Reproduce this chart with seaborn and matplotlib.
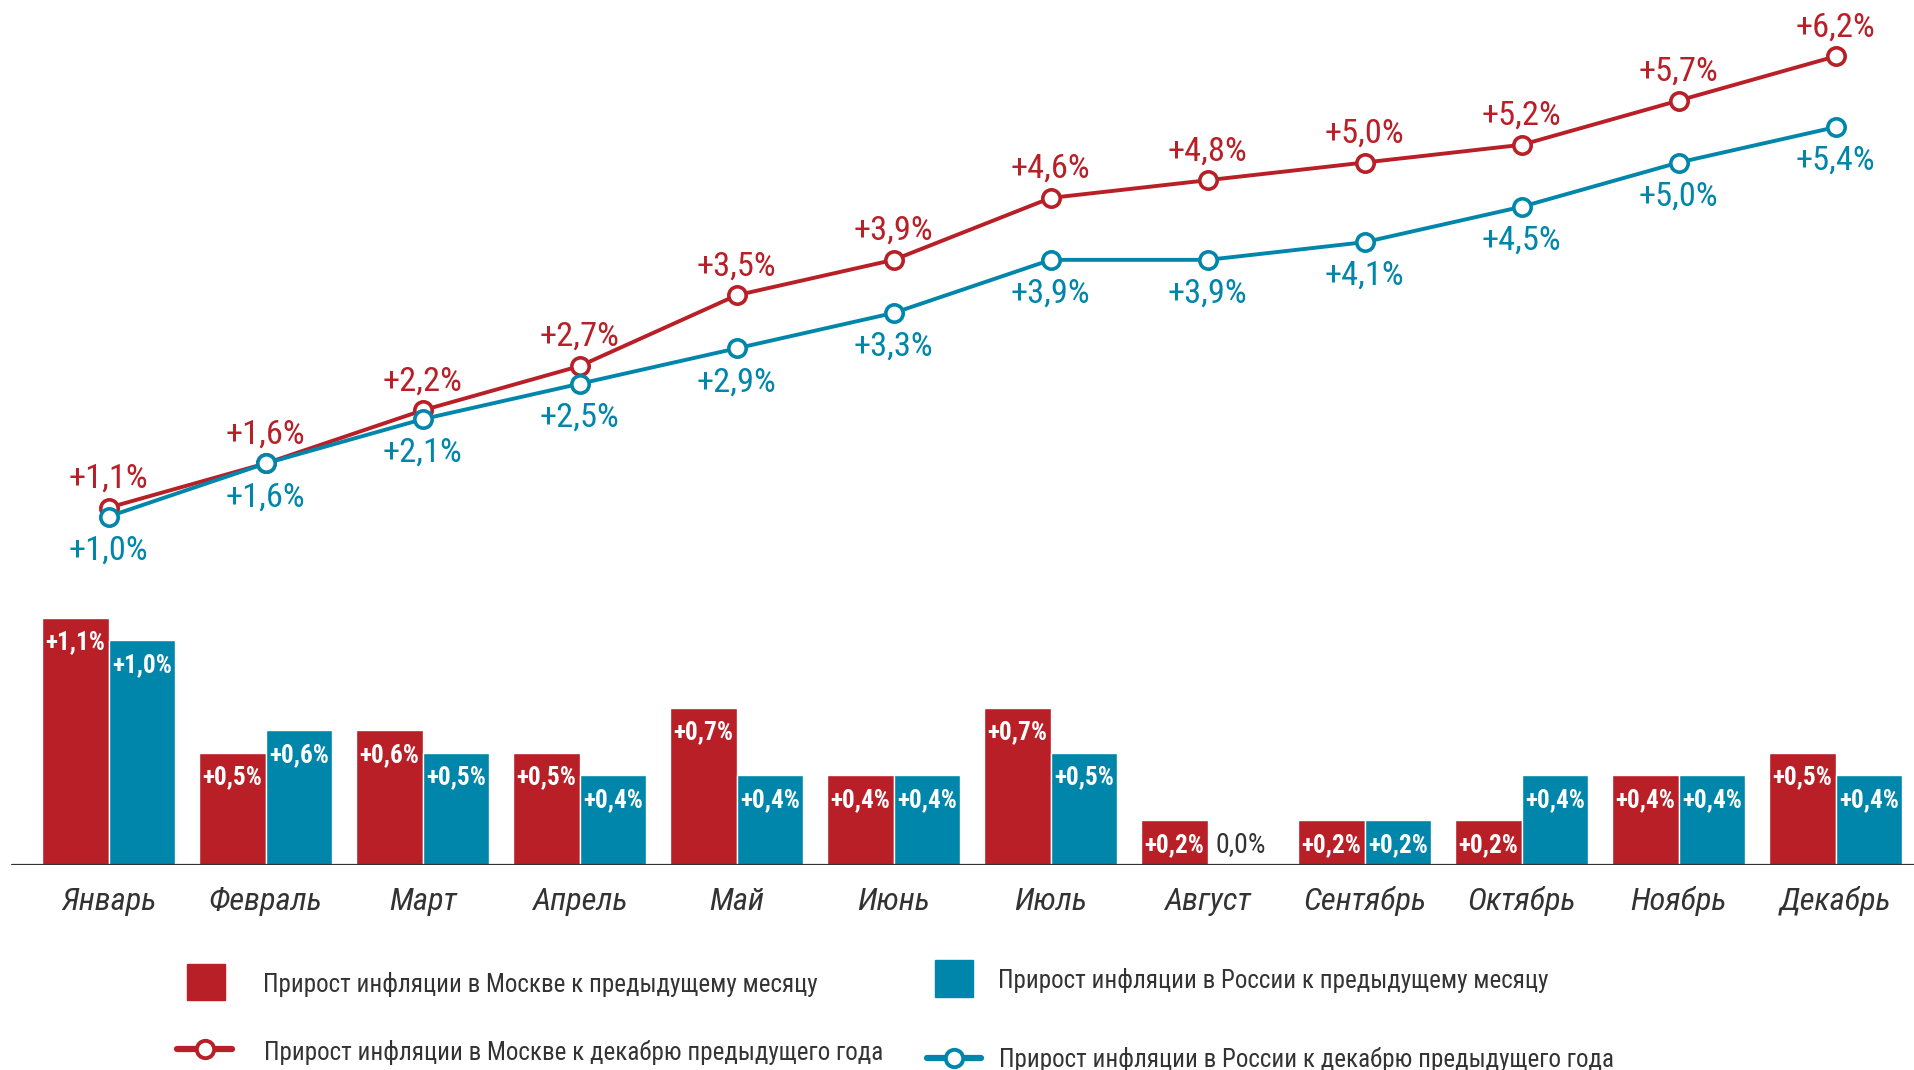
import matplotlib
matplotlib.use("Agg")
import matplotlib.pyplot as plt
from matplotlib import font_manager as fm
from matplotlib.patches import Rectangle
from matplotlib.lines import Line2D
import seaborn as sns
import pandas as pd

# ---------------- data ----------------
months = ['Январь', 'Февраль', 'Март', 'Апрель', 'Май', 'Июнь', 'Июль',
          'Август', 'Сентябрь', 'Октябрь', 'Ноябрь', 'Декабрь']
moscow_mom = [1.1, 0.5, 0.6, 0.5, 0.7, 0.4, 0.7, 0.2, 0.2, 0.2, 0.4, 0.5]
russia_mom = [1.0, 0.6, 0.5, 0.4, 0.4, 0.4, 0.5, 0.0, 0.2, 0.4, 0.4, 0.4]
moscow_ytd = [1.1, 1.6, 2.2, 2.7, 3.5, 3.9, 4.6, 4.8, 5.0, 5.2, 5.7, 6.2]
russia_ytd = [1.0, 1.6, 2.1, 2.5, 2.9, 3.3, 3.9, 3.9, 4.1, 4.5, 5.0, 5.4]
legend_labels = ['Прирост инфляции в Москве к предыдущему месяцу',
                 'Прирост инфляции в России к предыдущему месяцу',
                 'Прирост инфляции в Москве к декабрю предыдущего года',
                 'Прирост инфляции в России к декабрю предыдущего года']

RED = '#B81F27'
BLUE = '#0086AA'
DARK = '#333333'

sns.set_style('white')


def find(family, stretch='normal'):
    try:
        p = fm.findfont(fm.FontProperties(family=family, stretch=stretch),
                        fallback_to_default=False)
        return p
    except Exception:
        return None


# sizes tuned for a condensed face; k rescales if only a normal face exists
FONT, STRETCH, k = 'Liberation Sans', 'normal', 0.80
if find('Liberation Sans Narrow'):
    FONT, STRETCH, k = 'Liberation Sans Narrow', 'normal', 0.95
elif find('Roboto Condensed'):
    FONT, STRETCH, k = 'Roboto Condensed', 'normal', 1.0
else:
    for fam in ['Noto Sans', 'Open Sans']:
        p = find(fam, 'condensed')
        if p and ('ondensed' in p or 'arrow' in p):
            FONT, STRETCH, k = fam, 'condensed', 1.0
            break

plt.rcParams['font.family'] = [FONT, 'DejaVu Sans']
plt.rcParams['font.stretch'] = STRETCH

W, H = 1915, 1070
fig = plt.figure(figsize=(W / 100, H / 100), dpi=100)

xl = (-108.7 / 157.0, (W - 108.7) / 157.0)

# ---------------- bars ----------------
axb = fig.add_axes([0, (H - 865) / H, 1, 270 / H])
df = pd.DataFrame({
    'month': months * 2,
    'value': moscow_mom + russia_mom,
    'series': ['Москва'] * 12 + ['Россия'] * 12,
})
sns.barplot(data=df, x='month', y='value', hue='series', order=months,
            hue_order=['Москва', 'Россия'], palette=[RED, BLUE],
            width=0.847, saturation=1, legend=False, ax=axb)
axb.set_xlim(*xl)
axb.set_ylim(0, 1.2)
for s in axb.spines.values():
    s.set_visible(False)
axb.set_xticks([])
axb.set_yticks([])
axb.set_xlabel('')
axb.set_ylabel('')
axb.axhline(0, xmin=12 / W, xmax=1, color=DARK, lw=1.6, zorder=5)

for cont, vals in zip(axb.containers, [moscow_mom, russia_mom]):
    for bar, v in zip(cont.patches, vals):
        xc = bar.get_x() + bar.get_width() / 2
        if v > 0:
            axb.annotate(f"+{v:.1f}%".replace('.', ','), xy=(xc, v),
                         xytext=(0, -32), textcoords='offset pixels',
                         ha='center', va='baseline', color='white',
                         fontsize=18.2 * k, fontweight='bold')
        else:
            axb.annotate(f"{v:.1f}%".replace('.', ','), xy=(xc, 0),
                         xytext=(0, 13), textcoords='offset pixels',
                         ha='center', va='baseline', color=DARK,
                         fontsize=20 * k)

for i, m in enumerate(months):
    axb.annotate(m, xy=(i, 0), xytext=(0, -45), textcoords='offset pixels',
                 ha='center', va='baseline', color=DARK, fontsize=23.4 * k,
                 fontstyle='italic', annotation_clip=False)

# ---------------- lines ----------------
axl = fig.add_axes([0, (H - 560.75) / H, 1, (560.75 - 12.05) / H])
axl.patch.set_alpha(0)
xs = list(range(12))
for vals, col, dy in [(moscow_ytd, RED, 20), (russia_ytd, BLUE, -43)]:
    sns.lineplot(x=xs, y=vals, color=col, linewidth=2.8, marker='o',
                 markersize=12.5, markerfacecolor='white',
                 markeredgecolor=col, markeredgewidth=2.6, ax=axl,
                 clip_on=False, zorder=4)
    for x, v in zip(xs, vals):
        axl.annotate(f"+{v:.1f}%".replace('.', ','), xy=(x, v),
                     xytext=(0, dy), textcoords='offset pixels',
                     ha='center', va='baseline', color=col,
                     fontsize=24.8 * k, annotation_clip=False)
axl.set_xlim(*xl)
axl.set_ylim(0.5, 6.7)
axl.axis('off')

# ---------------- legend ----------------
def fy(y):
    return 1 - y / H

fig.add_artist(Rectangle((187 / W, fy(1000)), 38 / W, 36 / H,
                         transform=fig.transFigure, color=RED))
fig.add_artist(Rectangle((935 / W, fy(997)), 38 / W, 37 / H,
                         transform=fig.transFigure, color=BLUE))
fig.add_artist(Line2D([177 / W, 232 / W], [fy(1049), fy(1049)],
                      transform=fig.transFigure, color=RED, lw=4.5))
fig.add_artist(Line2D([205 / W], [fy(1049)], transform=fig.transFigure,
                      marker='o', markersize=12.5, markerfacecolor='white',
                      markeredgecolor=RED, markeredgewidth=2.8))
fig.add_artist(Line2D([927 / W, 981 / W], [fy(1058), fy(1058)],
                      transform=fig.transFigure, color=BLUE, lw=4.5))
fig.add_artist(Line2D([954 / W], [fy(1058)], transform=fig.transFigure,
                      marker='o', markersize=12.5, markerfacecolor='white',
                      markeredgecolor=BLUE, markeredgewidth=2.8))

for (x, y), lab in zip([(263, 992), (998, 988), (264, 1060), (999, 1067)],
                       legend_labels):
    fig.text(x / W, fy(y), lab, ha='left', va='baseline', color=DARK,
             fontsize=18 * k)

fig.savefig('out.png', dpi=100)
